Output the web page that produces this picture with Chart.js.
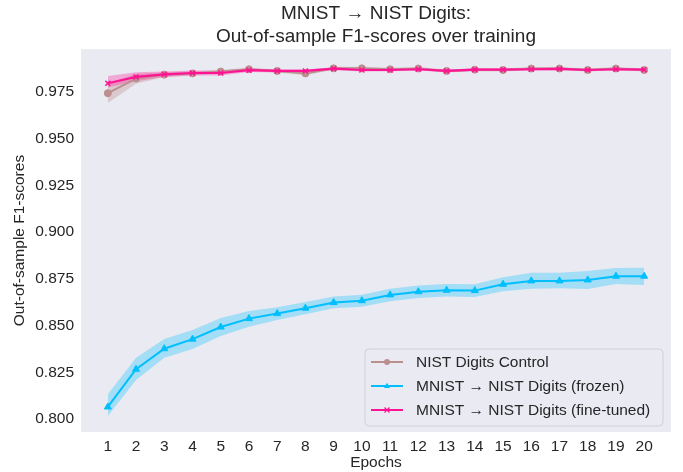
<!DOCTYPE html>
<html>
<head>
<meta charset="utf-8">
<script src="https://cdn.jsdelivr.net/npm/chart.js@4.4.1/dist/chart.umd.min.js"></script>
<style>
  html, body { margin: 0; padding: 0; background: #ffffff; }
  canvas { display: block; }
</style>
</head>
<body>
<canvas id="c" width="683" height="472"></canvas>
<script>
// ---- data ----
const epochs = [1,2,3,4,5,6,7,8,9,10,11,12,13,14,15,16,17,18,19,20];
const yTicks = [0.800, 0.825, 0.850, 0.875, 0.900, 0.925, 0.950, 0.975];

const controlMean  = [0.9744,0.9822,0.9843,0.9850,0.9860,0.9872,0.9863,0.9850,0.9877,0.9877,0.9872,0.9876,0.9863,0.9870,0.9868,0.9876,0.9876,0.9868,0.9876,0.9868];
const controlLower = [0.9691,0.9795,0.9830,0.9840,0.9850,0.9864,0.9855,0.9840,0.9869,0.9869,0.9864,0.9868,0.9855,0.9862,0.9860,0.9868,0.9868,0.9860,0.9868,0.9860];
const controlUpper = [0.9793,0.9848,0.9856,0.9860,0.9870,0.9880,0.9871,0.9860,0.9885,0.9885,0.9880,0.9884,0.9871,0.9878,0.9876,0.9884,0.9884,0.9876,0.9884,0.9876];

const frozenMean  = [0.8064,0.8266,0.8376,0.8427,0.8492,0.8537,0.8564,0.8593,0.8623,0.8633,0.8664,0.8681,0.8689,0.8687,0.8721,0.8739,0.8739,0.8744,0.8764,0.8764];
const frozenLower = [0.8016,0.8209,0.8327,0.8375,0.8444,0.8493,0.8530,0.8560,0.8592,0.8600,0.8630,0.8648,0.8656,0.8653,0.8684,0.8697,0.8699,0.8696,0.8722,0.8717];
const frozenUpper = [0.8132,0.8327,0.8428,0.8476,0.8540,0.8578,0.8598,0.8626,0.8655,0.8665,0.8697,0.8714,0.8722,0.8721,0.8758,0.8782,0.8782,0.8792,0.8808,0.8810];

const fineMean  = [0.9797,0.9831,0.9845,0.9852,0.9852,0.9867,0.9863,0.9863,0.9875,0.9868,0.9868,0.9872,0.9863,0.9870,0.9870,0.9872,0.9874,0.9868,0.9872,0.9870];
const fineLower = [0.9774,0.9808,0.9830,0.9838,0.9838,0.9858,0.9855,0.9855,0.9867,0.9860,0.9861,0.9865,0.9856,0.9863,0.9863,0.9865,0.9867,0.9861,0.9865,0.9863];
const fineUpper = [0.9836,0.9856,0.9860,0.9866,0.9866,0.9876,0.9871,0.9871,0.9883,0.9876,0.9875,0.9879,0.9870,0.9877,0.9877,0.9879,0.9881,0.9875,0.9879,0.9877];

const seriesNames = ['NIST Digits Control', 'MNIST \u2192 NIST Digits (frozen)', 'MNIST \u2192 NIST Digits (fine-tuned)'];
const titleLines = ['MNIST \u2192 NIST Digits:', 'Out-of-sample F1-scores over training'];
const xTitle = 'Epochs';
const yTitle = 'Out-of-sample F1-scores';

// ---- styling ----
const FONT = '"Liberation Sans", Arial, Helvetica, sans-serif';
const TXT = '#262626';
const C_CTRL = '#BC8F8F', C_FROZ = '#00BFFF', C_FINE = '#FF1493';
const A_CTRL = 'rgba(188,143,143,0.35)', A_FROZ = 'rgba(0,191,255,0.3)', A_FINE = 'rgba(255,20,147,0.3)';

const pts = arr => epochs.map((e, i) => ({x: e, y: arr[i]}));

function band(upper, lower, color, order) {
  return [
    { data: pts(upper), borderWidth: 0, pointRadius: 0, fill: '+1', backgroundColor: color, borderColor: 'transparent', tension: 0, order: order },
    { data: pts(lower), borderWidth: 0, pointRadius: 0, fill: false, borderColor: 'transparent', tension: 0, order: order }
  ];
}
function line(mean, color, style, radius, label, bw, order, lw) {
  return { label: label, data: pts(mean), borderColor: color, backgroundColor: color, borderWidth: lw,
           pointStyle: style, pointRadius: radius, pointBorderWidth: bw, pointBorderColor: color,
           pointBackgroundColor: color, fill: false, tension: 0, order: order };
}

const datasets = [
  ...band(controlUpper, controlLower, A_CTRL, 30),
  ...band(frozenUpper, frozenLower, A_FROZ, 20),
  ...band(fineUpper, fineLower, A_FINE, 10),
  line(controlMean, C_CTRL, 'circle', 3.5, seriesNames[0], 1, 3, 2),
  line(frozenMean, C_FROZ, 'triangle', 4, seriesNames[1], 1, 2, 2),
  line(fineMean, C_FINE, 'crossRot', 3.5, seriesNames[2], 1.5, 1, 2.2)
];

const bgPlugin = {
  id: 'plotBg',
  beforeDraw(chart) {
    const {ctx, chartArea: a} = chart;
    ctx.save();
    ctx.fillStyle = '#EAEAF2';
    ctx.fillRect(a.left, a.top, a.right - a.left, a.bottom - a.top);
    ctx.restore();
  }
};

function drawMarker(ctx, style, x, y, r, color, bw) {
  ctx.save();
  ctx.fillStyle = color; ctx.strokeStyle = color; ctx.lineWidth = bw;
  ctx.beginPath();
  if (style === 'circle') {
    ctx.arc(x, y, r, 0, Math.PI * 2); ctx.fill();
  } else if (style === 'triangle') {
    ctx.moveTo(x, y - r); ctx.lineTo(x + r * 0.95, y + r * 0.6); ctx.lineTo(x - r * 0.95, y + r * 0.6); ctx.closePath(); ctx.fill();
  } else {
    ctx.moveTo(x - r, y - r); ctx.lineTo(x + r, y + r);
    ctx.moveTo(x + r, y - r); ctx.lineTo(x - r, y + r); ctx.stroke();
  }
  ctx.restore();
}

const legendPlugin = {
  id: 'innerLegend',
  afterDatasetsDraw(chart) {
    const ctx = chart.ctx;
    const x0 = 365, y0 = 349, w = 298, h = 77, r = 4;
    ctx.save();
    ctx.beginPath();
    ctx.moveTo(x0 + r, y0); ctx.lineTo(x0 + w - r, y0); ctx.quadraticCurveTo(x0 + w, y0, x0 + w, y0 + r);
    ctx.lineTo(x0 + w, y0 + h - r); ctx.quadraticCurveTo(x0 + w, y0 + h, x0 + w - r, y0 + h);
    ctx.lineTo(x0 + r, y0 + h); ctx.quadraticCurveTo(x0, y0 + h, x0, y0 + h - r);
    ctx.lineTo(x0, y0 + r); ctx.quadraticCurveTo(x0, y0, x0 + r, y0); ctx.closePath();
    ctx.fillStyle = 'rgba(234,234,242,0.8)';
    ctx.fill();
    ctx.strokeStyle = '#D0D0D6'; ctx.lineWidth = 1; ctx.stroke();
    const items = [
      {c: C_CTRL, s: 'circle', r: 3, bw: 1},
      {c: C_FROZ, s: 'triangle', r: 3.2, bw: 1},
      {c: C_FINE, s: 'crossRot', r: 2.5, bw: 1.2}
    ];
    const rows = [362, 386, 410];
    ctx.font = '15.5px ' + FONT;
    ctx.textBaseline = 'middle';
    ctx.textAlign = 'left';
    items.forEach((it, i) => {
      const y = rows[i];
      ctx.strokeStyle = it.c; ctx.lineWidth = 2;
      ctx.beginPath(); ctx.moveTo(371, y); ctx.lineTo(403, y); ctx.stroke();
      drawMarker(ctx, it.s, 387, y, it.r, it.c, it.bw);
      ctx.fillStyle = TXT;
      ctx.fillText(seriesNames[i], 416, y + 1);
    });
    ctx.restore();
  }
};

new Chart(document.getElementById('c'), {
  type: 'line',
  data: { datasets: datasets },
  options: {
    responsive: false,
    animation: false,
    devicePixelRatio: 1,
    layout: { padding: { left: 0, right: 12, top: 0, bottom: 0 } },
    plugins: {
      legend: { display: false },
      tooltip: { enabled: false },
      title: {
        display: true, text: titleLines, fullSize: false, color: TXT,
        font: { family: FONT, size: 19, weight: 'normal', lineHeight: 1.2 },
        padding: { top: 2.5, bottom: 1 }
      }
    },
    scales: {
      x: {
        type: 'linear', min: 0.05, max: 20.95,
        grid: { display: false, drawTicks: false }, border: { display: false },
        afterBuildTicks: s => { s.ticks = epochs.map(v => ({ value: v })); },
        afterFit: s => { s.height = 40; },
        ticks: { color: TXT, font: { family: FONT, size: 15.5 }, padding: 5, autoSkip: false, maxRotation: 0,
                 callback: v => String(v) },
        title: { display: true, text: xTitle, color: TXT, font: { family: FONT, size: 15.5 }, padding: { top: 0, bottom: 0 } }
      },
      y: {
        type: 'linear', min: 0.793, max: 0.998,
        grid: { display: false, drawTicks: false }, border: { display: false },
        afterBuildTicks: s => { s.ticks = yTicks.map(v => ({ value: v })); },
        afterFit: s => { s.width = 81; },
        ticks: { color: TXT, font: { family: FONT, size: 15.5 }, padding: 7,
                 callback: v => Number(v).toFixed(3) },
        title: { display: true, text: yTitle, color: TXT, font: { family: FONT, size: 15.5 }, padding: { top: 10.5, bottom: 0 } }
      }
    }
  },
  plugins: [bgPlugin, legendPlugin]
});
</script>
</body>
</html>
